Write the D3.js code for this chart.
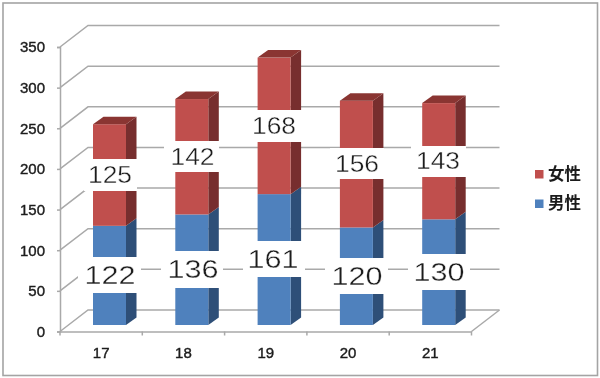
<!DOCTYPE html>
<html>
<head>
<meta charset="utf-8">
<script src="https://cdn.jsdelivr.net/npm/d3@7"></script>
<style>
    html, body { margin: 0; padding: 0; background: #fff; }
    svg { display: block; }
    text { font-family: "Liberation Sans", Arial, sans-serif; fill: #1c1c1c; }
</style>
</head>
<body>
<div id="chart-container"></div>
<script>
const categories = ["17", "18", "19", "20", "21"];
const male = [122, 136, 161, 120, 130];
const female = [125, 142, 168, 156, 143];
const yTicks = [0, 50, 100, 150, 200, 250, 300, 350];
const seriesNames = ["男性", "女性"];

// pasted white label boxes: left, top, right, bottom, text centre x, text centre y
const maleBoxes = [
    [78, 257, 141, 293, 110, 275],
    [161, 251, 223, 288, 193, 269],
    [243, 241, 305, 277, 273, 259],
    [325, 258, 388, 294, 357, 276],
    [408, 254, 470, 290, 439, 272]
];
const femaleBoxes = [
    [84, 159, 137, 191, 110, 175],
    [164, 141, 219, 172, 192.5, 157],
    [250, 110, 302, 142, 274, 126],
    [330, 148, 384, 179, 357, 164],
    [411, 146, 466, 177, 438, 161]
];

const width = 600, height = 378;
const plotLeft = 60, plotRight = 471.5, plotBottom = 331.5, plotTop = 47;
const depthX = 28, depthY = 21.5;       // wall depth
const barWidth = 33, barOffset = 33;    // bar position inside its band
const barDX = 10.5, barDY = 7.5, barLift = 6.5;
const gridColor = "#a9a9a9";

const colors = {
    "男性": { front: "#4f81bd", side: "#2e4f78", top: "#3a6090" },
    "女性": { front: "#c0504d", side: "#772f2d", top: "#8a3633" }
};

const x = d3.scaleBand().domain(categories).range([plotLeft, plotRight]);
const y = d3.scaleLinear().domain([0, 350]).range([plotBottom, plotTop]);

const table = categories.map(function (c, i) {
    return { cat: c, "男性": male[i], "女性": female[i] };
});
const stacked = d3.stack().keys(seriesNames)(table);

const svg = d3.select("#chart-container").append("svg")
    .attr("width", width)
    .attr("height", height);

svg.append("filter").attr("id", "soft")
    .append("feGaussianBlur").attr("stdDeviation", 0.4);

const g = svg.append("g").attr("filter", "url(#soft)");

g.append("rect")
    .attr("width", width).attr("height", height).attr("fill", "#fff");

g.append("rect")
    .attr("x", 3).attr("y", 3)
    .attr("width", 594.5).attr("height", 372.5)
    .attr("fill", "#fff")
    .attr("stroke", "#a4a4a4")
    .attr("stroke-width", 1.6);

// walls
const grid = g.append("g")
    .attr("fill", "none")
    .attr("stroke", gridColor)
    .attr("stroke-width", 1.5);

grid.selectAll("path")
    .data(yTicks)
    .enter().append("path")
    .attr("d", function (d) {
        return "M" + plotLeft + "," + y(d) + "L" + (plotLeft + depthX) + "," + (y(d) - depthY) + "H" + (plotRight + depthX);
    });

grid.append("path")
    .attr("d", "M" + plotRight + "," + plotBottom + "L" + (plotRight + depthX) + "," + (plotBottom - depthY));

// bars
const series = g.selectAll(".series")
    .data(stacked)
    .enter().append("g")
    .attr("class", "series");

series.selectAll(".side")
    .data(function (s) {
        return s.map(function (d) { return { v0: d[0], v1: d[1], cat: d.data.cat, key: s.key }; });
    })
    .enter().append("path")
    .attr("class", "side")
    .attr("fill", function (d) { return colors[d.key].side; })
    .attr("d", function (d) {
        const xr = x(d.cat) + barOffset + barWidth;
        const y0 = y(d.v0) - barLift, y1 = y(d.v1) - barLift;
        return "M" + xr + "," + y0 + "V" + y1 + "l" + barDX + "," + (-barDY) + "V" + (y0 - barDY) + "Z";
    });

series.selectAll(".front")
    .data(function (s) {
        return s.map(function (d) { return { v0: d[0], v1: d[1], cat: d.data.cat, key: s.key }; });
    })
    .enter().append("rect")
    .attr("class", "front")
    .attr("x", function (d) { return x(d.cat) + barOffset; })
    .attr("y", function (d) { return y(d.v1) - barLift; })
    .attr("width", barWidth)
    .attr("height", function (d) { return y(d.v0) - y(d.v1); })
    .attr("fill", function (d) { return colors[d.key].front; });

// only the top of the stack shows its lid
g.append("g").selectAll("path")
    .data(stacked[1])
    .enter().append("path")
    .attr("fill", colors["女性"].top)
    .attr("d", function (d) {
        const xl = x(d.data.cat) + barOffset, yt = y(d[1]) - barLift;
        return "M" + xl + "," + yt + "l" + barDX + "," + (-barDY) + "h" + barWidth + "l" + (-barDX) + "," + barDY + "Z";
    });

// axes
const yAxis = d3.axisLeft(y).tickValues(yTicks).tickSize(3).tickPadding(12);
const xAxis = d3.axisBottom(x).tickSize(0).tickPadding(16);

const yG = g.append("g").attr("transform", "translate(" + plotLeft + ",0)").call(yAxis);
const xG = g.append("g").attr("transform", "translate(0," + plotBottom + ")").call(xAxis);

yG.selectAll(".domain, line").attr("stroke", gridColor).attr("stroke-width", 1.5);
xG.selectAll(".domain").attr("stroke", gridColor).attr("stroke-width", 1.5);
yG.selectAll("text").style("font-size", "15px").attr("stroke", "#1c1c1c").attr("stroke-width", 0.4);
xG.selectAll("text").style("font-size", "15px").attr("stroke", "#1c1c1c").attr("stroke-width", 0.4);

xG.selectAll(".edge")
    .data(d3.range(categories.length + 1))
    .enter().append("line")
    .attr("class", "edge")
    .attr("x1", function (i) { return plotLeft + i * x.step(); })
    .attr("x2", function (i) { return plotLeft + i * x.step(); })
    .attr("y1", 0).attr("y2", 4)
    .attr("stroke", gridColor)
    .attr("stroke-width", 1.5);

// white boxes with the hand placed numbers
function drawLabels(values, boxes, fontSize, textWidth) {
    const lab = g.append("g").selectAll("g")
        .data(values)
        .enter().append("g");

    lab.append("rect")
        .attr("x", function (d, i) { return boxes[i][0]; })
        .attr("y", function (d, i) { return boxes[i][1]; })
        .attr("width", function (d, i) { return boxes[i][2] - boxes[i][0]; })
        .attr("height", function (d, i) { return boxes[i][3] - boxes[i][1]; })
        .attr("fill", "#fff");

    lab.append("text")
        .attr("x", function (d, i) { return boxes[i][4]; })
        .attr("y", function (d, i) { return boxes[i][5] + fontSize * 0.358; })
        .attr("text-anchor", "middle")
        .attr("textLength", textWidth)
        .attr("lengthAdjust", "spacingAndGlyphs")
        .attr("stroke", "#fff")
        .attr("stroke-width", 0.35)
        .style("font-size", fontSize + "px")
        .text(function (d) { return d; });
}

drawLabels(male, maleBoxes, 26.5, 51);
drawLabels(female, femaleBoxes, 23.5, 44);

// legend
const legendNames = ["女性", "男性"];
const legend = g.append("g").selectAll("g")
    .data(legendNames)
    .enter().append("g")
    .attr("transform", function (d, i) { return "translate(535," + (170 + i * 29.5) + ")"; });

legend.append("rect")
    .attr("width", 8.5).attr("height", 8.5)
    .attr("fill", function (d) { return colors[d].front; });

legend.append("text")
    .attr("x", 13).attr("y", 9.5)
    .style("font-family", '"Noto Sans CJK JP"')
    .style("font-size", "16.5px")
    .style("font-weight", 700)
    .text(function (d) { return d; });
</script>
</body>
</html>
